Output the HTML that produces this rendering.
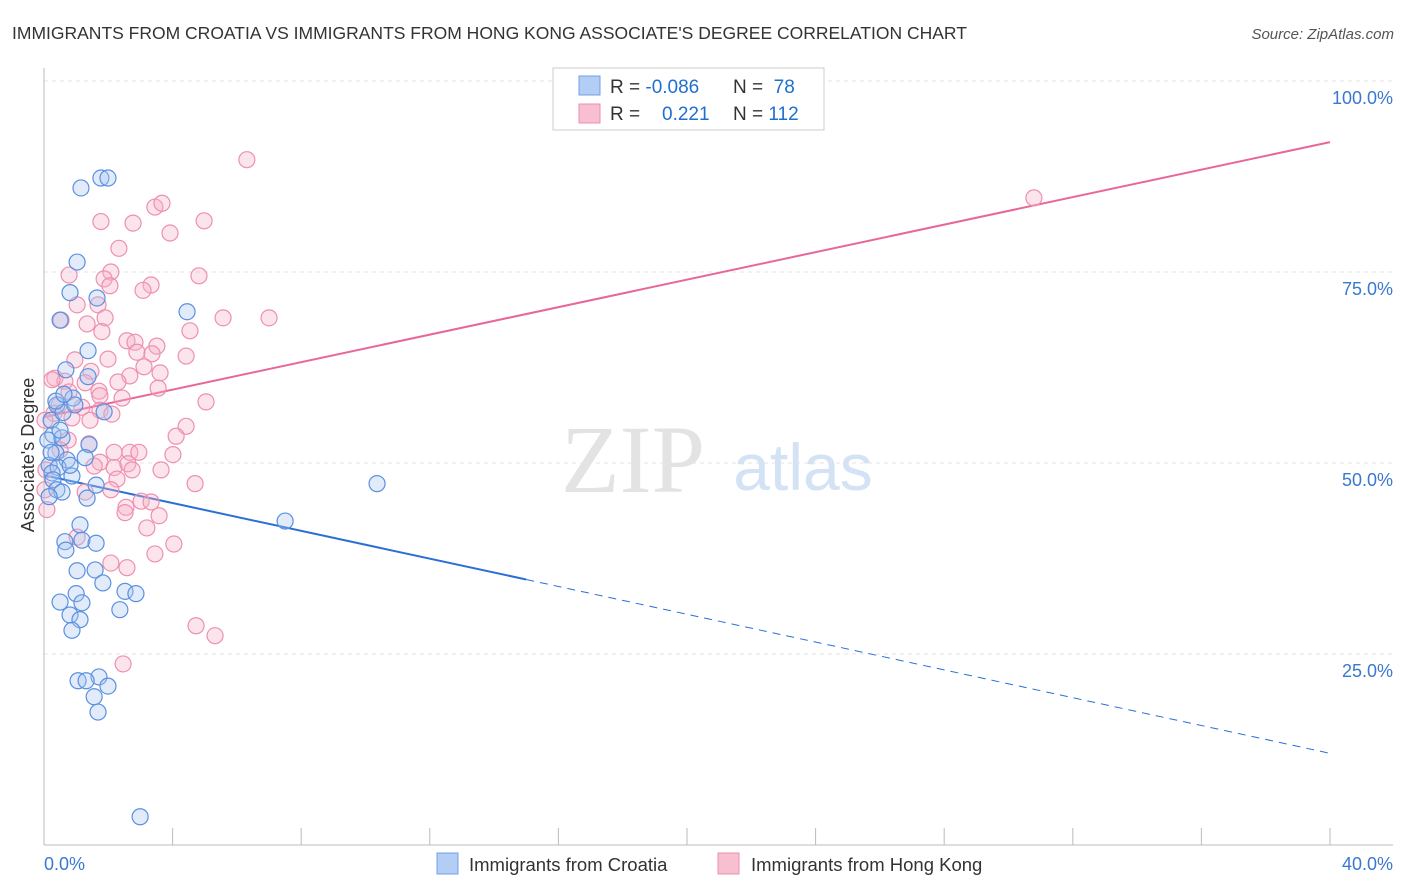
<!DOCTYPE html>
<html><head><meta charset="utf-8">
<style>
body{margin:0;background:#fff;font-family:"Liberation Sans",sans-serif;}
svg{display:block}
</style></head>
<body>
<svg id="chart" width="1406" height="892" viewBox="0 0 1406 892">
<text x="12" y="39" font-size="17.5" fill="#333">IMMIGRANTS FROM CROATIA VS IMMIGRANTS FROM HONG KONG ASSOCIATE'S DEGREE CORRELATION CHART</text>
<text x="1394" y="39" font-size="15" fill="#555" font-style="italic" text-anchor="end">Source: ZipAtlas.com</text>
<g>
<text x="633" y="492" font-size="96" fill="#ddd" font-family="Liberation Serif,serif" text-anchor="middle" opacity="0.8">ZIP</text>
<text x="803" y="490" font-size="66" fill="#c9dcf2" text-anchor="middle" opacity="0.8">atlas</text>
</g>
<text transform="translate(34,455) rotate(-90)" font-size="18" fill="#333" text-anchor="middle">Associate's Degree</text>
<g id="grid"></g><g id="axes"></g><g id="lines"></g><g id="pts"></g>
<g>
<rect x="553" y="68" width="271" height="62" fill="#fff" stroke="#ccc"/>
<rect x="579" y="76" width="21" height="19" fill="#b3cdf5" stroke="#6fa0e8"/>
<rect x="579" y="104" width="21" height="19" fill="#f7bfd0" stroke="#ee8fb0"/>
<text x="610" y="93" font-size="19" fill="#333">R = <tspan fill="#1f6fd0">-0.086</tspan><tspan x="733">N = </tspan><tspan fill="#1f6fd0">&#160;78</tspan></text>
<text x="610" y="120" font-size="19" fill="#333">R = <tspan x="662" fill="#1f6fd0">0.221</tspan><tspan x="733">N = </tspan><tspan fill="#1f6fd0">112</tspan></text>
</g>
<g>
<rect x="437" y="853" width="21" height="21" fill="#b3cdf5" stroke="#6fa0e8"/>
<text x="469" y="871" font-size="18.5" fill="#333">Immigrants from Croatia</text>
<rect x="718" y="853" width="21" height="21" fill="#f7bfd0" stroke="#ee8fb0"/>
<text x="751" y="871" font-size="18.5" fill="#333">Immigrants from Hong Kong</text>
</g>
</svg>
<script>
const blueX=[1.15,1.77,1.99,1.03,0.81,1.65,4.45,0.50,1.37,0.68,1.37,0.90,1.87,0.40,0.28,0.12,0.56,1.40,0.37,0.72,0.16,0.44,0.25,0.87,0.28,1.62,0.40,0.56,1.34,10.36,7.50,1.12,1.18,0.65,1.62,0.68,1.03,1.59,1.83,2.52,2.86,0.50,1.00,1.18,0.81,1.12,2.36,0.87,1.71,1.06,1.31,1.99,1.56,1.68,2.99,0.22,0.50,1.28,0.59,0.16,0.37,0.96,0.62,0.22,0.81];
const blueY=[86.0,87.3,87.3,76.3,72.3,71.6,69.8,68.7,64.7,62.2,61.3,58.5,56.7,57.6,53.7,53.0,53.3,52.4,51.3,50.4,49.7,49.4,48.7,48.3,47.8,47.1,46.5,46.2,45.4,47.3,42.4,41.9,39.9,39.7,39.5,38.6,35.9,36.0,34.3,33.2,32.9,31.8,32.9,31.7,30.1,29.5,30.8,28.1,22.0,21.5,21.5,20.8,19.4,17.4,3.7,55.6,54.3,50.7,56.6,45.6,58.1,57.6,59.0,51.4,49.7];
const pinkX=[6.31,30.79,1.77,2.77,4.98,3.45,3.67,3.92,2.33,0.78,2.08,1.87,2.05,3.33,3.08,4.82,1.03,1.68,0.53,1.34,1.90,5.57,7.00,4.54,1.80,2.58,2.83,3.51,2.89,3.36,4.42,1.99,0.96,3.11,1.46,3.61,2.67,0.34,0.65,2.30,1.28,3.55,1.71,0.78,1.74,2.43,5.04,0.47,1.18,1.74,2.11,1.43,0.87,0.31,0.03,4.42,4.11,0.75,1.40,2.18,2.67,2.95,4.01,3.64,1.74,1.56,2.18,2.61,2.74,2.27,4.70,2.08,1.28,0.03,3.02,2.55,3.33,2.52,3.58,3.20,4.04,1.03,3.45,2.08,2.58,4.73,5.32,2.46,0.09,0.50,0.25,0.06];
const pinkY=[89.7,84.7,81.6,81.4,81.7,83.5,84.0,80.1,78.1,74.6,75.0,74.1,73.2,73.3,72.6,74.5,70.7,70.7,68.7,68.2,69.0,69.0,69.0,67.3,67.2,66.0,65.8,65.3,64.5,64.3,64.0,63.6,63.5,62.6,62.0,61.8,61.4,61.1,60.7,60.6,60.5,59.8,59.4,59.3,58.8,58.5,58.0,57.6,57.3,56.9,56.4,55.6,55.9,56.5,55.6,54.8,53.5,53.0,52.5,51.4,51.4,51.4,51.1,49.1,50.1,49.6,49.4,49.9,49.1,47.9,47.3,46.5,46.2,46.5,45.0,44.2,44.9,43.5,43.1,41.5,39.4,40.3,38.1,36.9,36.3,28.7,27.4,23.7,43.9,51.7,60.9,49.1];
const yTicks=[25,50,75,100];
const yTickLabels=["25.0%","50.0%","75.0%","100.0%"];
const xTickLabels=["0.0%","40.0%"];
const blueTrend=[48.4,-0.91]; // intercept, slope
const pinkTrend=[56.0,0.90];
const blueSolidEnd=15.0;

const NS="http://www.w3.org/2000/svg";
const X0=44,X1=1330,Y0=845,Y100=81;
const sx=v=>X0+(v/40)*(X1-X0);
const sy=v=>Y0-(v/100)*(Y0-Y100);
function mk(tag,attrs,parent){const e=document.createElementNS(NS,tag);for(const k in attrs)e.setAttribute(k,attrs[k]);parent.appendChild(e);return e;}
const grid=document.getElementById('grid'),axes=document.getElementById('axes'),lines=document.getElementById('lines'),pts=document.getElementById('pts');
yTicks.forEach((t,i)=>{
  const l=mk('line',{x1:X0,x2:1393,y1:sy(t),y2:sy(t),stroke:'#e3e3e3','stroke-dasharray':'4,4'},grid);
  
  
  const tx=mk('text',{x:1393,y:sy(t)+23,'font-size':18,fill:'#3a78d0','text-anchor':'end'},axes);
  tx.textContent=yTickLabels[i];
  
  
});
const ax=mk('line',{x1:X0,x2:1393,y1:Y0,y2:Y0,stroke:'#bbb'},axes);


const ay=mk('line',{x1:X0,x2:X0,y1:68,y2:Y0,stroke:'#bbb'},axes);


for(let i=0;i<=10;i++){
  const t=mk('line',{x1:sx(i*4),x2:sx(i*4),y1:828,y2:Y0,stroke:'#bbb'},axes);
  
  
}
const xl0=mk('text',{x:X0,y:870,'font-size':18,fill:'#3a78d0'},axes);
xl0.textContent=xTickLabels[0];


const xl1=mk('text',{x:1393,y:870,'font-size':18,fill:'#3a78d0','text-anchor':'end'},axes);
xl1.textContent=xTickLabels[1];



function drawPts(xs,ys,fill,stroke,name){
  xs.forEach((x,i)=>{
    const c=mk('circle',{cx:sx(x),cy:sy(ys[i]),r:8,fill:fill,'fill-opacity':0.35,stroke:stroke,'stroke-width':1.2},pts);
    
    
  });
}
drawPts(pinkX,pinkY,'#f7b3c8','#ee8fb0','hongkong-point');
drawPts(blueX,blueY,'#a9c6f2','#5a90e0','croatia-point');

const f=(tr,x)=>tr[0]+tr[1]*x;
const bs=mk('line',{x1:sx(0),y1:sy(f(blueTrend,0)),x2:sx(blueSolidEnd),y2:sy(f(blueTrend,blueSolidEnd)),stroke:'#2a6fd6','stroke-width':2},lines);


const bd=mk('line',{x1:sx(blueSolidEnd),y1:sy(f(blueTrend,blueSolidEnd)),x2:sx(40),y2:sy(f(blueTrend,40)),stroke:'#2a6fd6','stroke-width':1,'stroke-dasharray':'8,6'},lines);


const pl=mk('line',{x1:sx(0),y1:sy(f(pinkTrend,0)),x2:sx(40),y2:sy(f(pinkTrend,40)),stroke:'#e8679a','stroke-width':2},lines);


</script>
</body></html>
